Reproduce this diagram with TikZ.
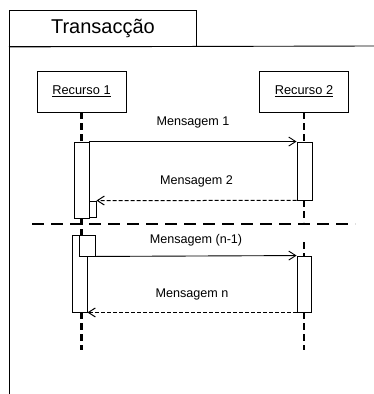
\documentclass[tikz,border=0pt]{standalone}
\usepackage{fontspec}
\setmainfont{Liberation Sans}
\usetikzlibrary{arrows.meta,positioning}

\begin{document}
\begin{tikzpicture}[x=1pt, y=-1pt, >={Straight Barb[length=7pt, width=9pt]},
  every node/.style={inner sep=0pt},
  lbl/.style={font=\fontsize{12.6}{15}\selectfont},
  obj/.style={draw, line width=0.9pt, minimum width=89pt, minimum height=41pt, font=\fontsize{12.8}{15}\selectfont},
  act/.style={draw, fill=white, line width=0.9pt, minimum width=15pt},
  life/.style={line width=2.3pt, dash pattern=on 7pt off 4pt},
  sep/.style={line width=2.3pt, dash pattern=on 12pt off 7pt},
  msg/.style={->, line width=0.9pt},
  ret/.style={->, line width=1pt, dash pattern=on 4pt off 2pt}]
  \useasboundingbox (0,0) rectangle (374,394);
  % frame
  \node[draw, line width=0.9pt, anchor=north west, minimum width=187pt, minimum height=36pt,
    font=\fontsize{20}{24}\selectfont] (tab) at (9,10) {Transacção};
  \coordinate (fr) at (374,46);
  \coordinate (fb) at (9,394);
  \draw[line width=0.9pt] (tab.south west) -- (fr);
  \draw[line width=0.9pt] (tab.south west) -- (fb);
  % objects
  \node[obj] (r1) at (81.5,91.5) {\underline{Recurso 1}};
  \node[obj] (r2) at (304,91.5) {\underline{Recurso 2}};
  % lifelines
  \coordinate (l2a) at (304,222);
  \coordinate (l2b) at (304,242);
  \coordinate (e1) at (81.5,350);
  \coordinate (e2) at (304,350);
  \draw[life] (r1.south) -- (81.5,142);
  \draw[life] (r2.south) -- (304,142);
  \draw[life] (81.5,218) -- (81.5,235);
  \draw[life] (304,200) -- (l2a);
  \draw[life] (l2b) -- (304,256);
  \draw[life] (81.5,312) -- (e1);
  \draw[life] (304,312) -- (e2);
  % separator
  \coordinate (sl) at (32,224);
  \coordinate (sr) at (355,224);
  \draw[sep] (sl) -- (sr);
  % activations
  \node[act, minimum height=76pt] (a1) at (81.5,180) {};
  \node[act, minimum width=7pt, minimum height=16pt] (a1b) at (92.5,209) {};
  \node[act, minimum height=58pt] (a2) at (304.5,171) {};
  \node[act, minimum height=77pt] (a3) at (79.5,273.5) {};
  \node[act, minimum width=16pt, minimum height=21pt] (a3b) at (87,245.5) {};
  \node[act, minimum width=14pt, minimum height=56pt] (a4) at (304,284) {};
  % messages
  \draw[msg] (a1.north east) -- node[lbl, midway, above=13pt] {Mensagem 1} (a2.north west);
  \draw[ret] (a2.south west) -- node[lbl, midway, above=13pt] {Mensagem 2} (a1b.north east);
  \draw[msg] (a3b.south east) -- node[lbl, midway, above=9pt] {Mensagem (n-1)} (a4.north west);
  \draw[ret] (a4.south west) -- node[lbl, midway, above=12pt] {Mensagem n} (a3.south east);
\end{tikzpicture}
\end{document}
